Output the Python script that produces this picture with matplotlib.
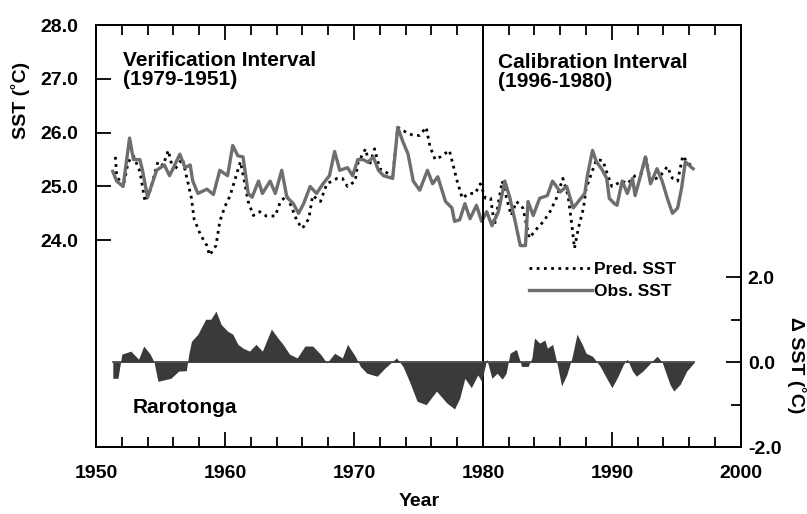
import matplotlib
matplotlib.use("Agg")
import matplotlib.pyplot as plt
from matplotlib.ticker import MultipleLocator
from matplotlib.lines import Line2D

plt.rcParams['font.family'] = ['Liberation Sans', 'DejaVu Sans']
plt.rcParams['font.weight'] = 'bold'

obs_years = [1951.3, 1951.6, 1952.1, 1952.6, 1952.9, 1953.4, 1953.6, 1954.0, 1954.7, 1955.3,
             1955.7, 1956.1, 1956.5, 1956.9, 1957.3, 1957.5, 1957.9, 1958.6, 1959.1, 1959.6,
             1960.2, 1960.6, 1961.0, 1961.4, 1961.8, 1962.1, 1962.6, 1962.9, 1963.5, 1963.9,
             1964.4, 1964.8, 1965.3, 1965.7, 1966.1, 1966.6, 1967.1, 1967.6, 1968.1, 1968.5,
             1968.9, 1969.5, 1969.9, 1970.3, 1970.7, 1971.1, 1971.5, 1971.9, 1972.3, 1973.0,
             1973.4, 1973.8, 1974.2, 1974.6, 1975.1, 1975.7, 1976.1, 1976.5, 1977.1, 1977.6,
             1977.8, 1978.2, 1978.6, 1979.0, 1979.5, 1979.9, 1980.3, 1980.7, 1981.2, 1981.7,
             1982.1, 1982.5, 1982.9, 1983.3, 1983.5, 1983.9, 1984.4, 1985.0, 1985.4, 1986.0,
             1986.5, 1987.0, 1987.5, 1987.9, 1988.1, 1988.5, 1988.8, 1989.2, 1989.6, 1989.8,
             1990.2, 1990.4, 1990.8, 1991.2, 1991.6, 1991.8, 1992.2, 1992.6, 1993.0, 1993.5,
             1993.9, 1994.3, 1994.7, 1995.1, 1995.4, 1995.7, 1996.1, 1996.3]
obs_sst = [25.28, 25.10, 25.00, 25.90, 25.50, 25.50, 25.30, 24.80, 25.30, 25.40,
           25.20, 25.40, 25.60, 25.35, 25.40, 25.10, 24.87, 24.95, 24.85, 25.30,
           25.20, 25.76, 25.57, 25.55, 24.87, 24.80, 25.10, 24.87, 25.10, 24.87,
           25.30, 24.80, 24.68, 24.50, 24.68, 25.00, 24.87, 25.05, 25.20, 25.65,
           25.30, 25.35, 25.20, 25.50, 25.50, 25.45, 25.55, 25.30, 25.20, 25.15,
           26.10, 25.83, 25.60, 25.10, 24.93, 25.30, 25.05, 25.18, 24.72, 24.60,
           24.35, 24.38, 24.68, 24.40, 24.65, 24.35, 24.53, 24.27, 24.53, 25.10,
           24.78, 24.35, 23.90, 23.90, 24.72, 24.46, 24.78, 24.83, 25.10, 24.90,
           25.00, 24.60, 24.75, 24.87, 25.20, 25.67, 25.46, 25.33, 25.15, 24.78,
           24.68, 24.65, 25.10, 24.87, 25.15, 24.83, 25.18, 25.55, 25.05, 25.33,
           25.10, 24.78, 24.50, 24.60, 24.96, 25.46, 25.37, 25.33]

# predicted SST
pred_years = [1951.5, 1951.6, 1952.1, 1952.5, 1952.9, 1953.4, 1953.8, 1954.2, 1954.8, 1955.2,
              1955.6, 1956.0, 1956.7, 1957.1, 1957.4, 1957.6, 1958.1, 1958.6, 1958.8, 1959.3,
              1959.6, 1960.0, 1960.4, 1960.8, 1961.2, 1961.5, 1961.8, 1962.2, 1962.7, 1963.2,
              1963.9, 1964.3, 1964.8, 1965.6, 1966.0, 1966.5, 1966.8, 1967.4, 1967.9, 1968.7,
              1969.1, 1969.5, 1970.1, 1970.3, 1970.9, 1971.2, 1971.6, 1972.0, 1972.4, 1973.0,
              1973.4, 1974.1, 1974.6, 1975.1, 1975.6, 1975.9, 1976.3, 1976.7, 1977.4, 1977.7,
              1978.0, 1978.4, 1978.9, 1979.4, 1979.8, 1980.2, 1980.6, 1980.9, 1981.5, 1981.9,
              1982.2, 1982.6, 1983.1, 1983.6, 1984.2, 1984.7, 1985.2, 1985.7, 1986.2, 1986.6,
              1986.9, 1987.1, 1987.4, 1987.8, 1988.0, 1988.8, 1989.3, 1989.7, 1990.0, 1990.8,
              1991.2, 1991.8, 1992.3, 1992.6, 1993.0, 1993.7, 1994.3, 1994.7, 1995.1, 1995.5,
              1995.9, 1996.3]
pred_sst = [25.55, 25.20, 24.99, 25.46, 25.57, 25.28, 24.72, 24.93, 25.46, 25.39,
            25.67, 25.28, 25.52, 25.10, 24.78, 24.40, 24.10, 23.90, 23.72, 23.90,
            24.35, 24.63, 24.83, 25.15, 25.46, 25.10, 24.72, 24.46, 24.53, 24.45,
            24.45, 24.72, 24.83, 24.35, 24.22, 24.40, 24.83, 24.72, 25.05, 25.15,
            25.15, 25.00, 25.10, 25.43, 25.70, 25.39, 25.70, 25.33, 25.28, 25.18,
            26.10, 26.00, 25.95, 25.95, 26.10, 25.74, 25.50, 25.55, 25.67, 25.39,
            25.10, 24.78, 24.87, 24.87, 25.05, 24.78, 24.78, 24.28, 25.10, 24.72,
            24.46, 24.72, 24.60, 24.04, 24.22, 24.35, 24.53, 24.78, 25.15, 24.83,
            24.28, 23.85, 24.22, 24.60, 24.96, 25.50, 25.48, 25.20, 25.00, 25.10,
            25.05, 25.20, 25.24, 25.57, 25.10, 25.18, 25.37, 25.15, 25.10, 25.57,
            25.43, 25.37]

# SST difference (obs - pred)
delta_years = [1951.3, 1951.7, 1952.0, 1952.7, 1953.3, 1953.7, 1954.2, 1954.5, 1954.8, 1955.8,
               1956.4, 1957.0, 1957.2, 1957.4, 1957.9, 1958.5, 1958.9, 1959.3, 1959.7, 1960.2,
               1960.6, 1961.0, 1961.4, 1961.9, 1962.4, 1962.9, 1963.6, 1964.1, 1964.5, 1965.0,
               1965.6, 1966.2, 1966.8, 1967.4, 1967.9, 1968.5, 1969.1, 1969.5, 1970.1, 1970.5,
               1971.0, 1971.8, 1972.4, 1973.3, 1973.8, 1974.3, 1974.9, 1975.6, 1976.4, 1977.2,
               1977.8, 1978.2, 1978.6, 1979.1, 1979.6, 1979.9, 1980.3, 1980.7, 1981.1, 1981.5,
               1981.8, 1982.1, 1982.6, 1983.0, 1983.5, 1983.8, 1984.0, 1984.4, 1984.8, 1985.0,
               1985.4, 1985.8, 1986.1, 1986.5, 1986.9, 1987.3, 1987.7, 1988.0, 1988.5, 1989.1,
               1989.6, 1990.0, 1990.4, 1990.9, 1991.2, 1991.6, 1991.9, 1992.4, 1992.9, 1993.5,
               1993.9, 1994.5, 1994.8, 1995.3, 1995.8, 1996.4]
delta_sst = [-0.38, -0.38, 0.19, 0.26, 0.07, 0.38, 0.19, 0.00, -0.45, -0.38,
             -0.21, -0.20, 0.20, 0.49, 0.66, 1.01, 1.01, 1.20, 0.89, 0.73,
             0.66, 0.42, 0.33, 0.26, 0.42, 0.26, 0.78, 0.57, 0.42, 0.19,
             0.10, 0.38, 0.38, 0.19, -0.02, 0.21, 0.10, 0.42, 0.14, -0.10,
             -0.26, -0.33, -0.14, 0.10, -0.10, -0.45, -0.92, -1.00, -0.68, -0.96,
             -1.10, -0.85, -0.38, -0.60, -0.30, -0.45, 0.07, -0.38, -0.26, -0.40,
             -0.26, 0.21, 0.30, -0.10, -0.10, 0.10, 0.57, 0.45, 0.52, 0.33,
             0.42, -0.10, -0.56, -0.30, 0.10, 0.66, 0.42, 0.21, 0.14, -0.10,
             -0.38, -0.60, -0.38, -0.05, 0.07, -0.21, -0.33, -0.21, -0.05, 0.14,
             0.00, -0.52, -0.68, -0.52, -0.21, 0.00]

split_year = 1980

fig = plt.figure(figsize=(8.07, 5.14), dpi=100)
ax = fig.add_axes([0.119, 0.130, 0.799, 0.821])
ax2 = ax.twinx()

# top panel: SST lines
ax.plot(pred_years, pred_sst, color='black', lw=2.0, linestyle=(0, (1, 1.6)))
ax.plot(obs_years, obs_sst, color='#6e6e6e', lw=2.4)
ax.axvline(split_year, color='black', lw=1.4)

ax.set_xlim(1950, 2000)
ax.set_ylim(20.15, 28.0)
ax.set_yticks([24, 25, 26, 27, 28])
ax.set_yticklabels(['24.0', '25.0', '26.0', '27.0', '28.0'])
ax.xaxis.set_major_locator(MultipleLocator(10))
ax.xaxis.set_minor_locator(MultipleLocator(2))

ax.tick_params(axis='x', which='major', direction='in', length=11, width=1.3,
               top=True, pad=13, labelsize=14)
ax.tick_params(axis='x', which='minor', direction='in', length=7, width=1.3, top=True)
ax.tick_params(axis='y', which='major', direction='in', length=11, width=1.3,
               pad=13, labelsize=14)

# bottom panel: difference
ax2.fill_between(delta_years, delta_sst, 0, color='#3a3a3a', lw=0)
ax2.plot([delta_years[0], delta_years[-1]], [0, 0], color='#3a3a3a', lw=1.2)
ax2.set_ylim(-2.0, 7.93)
ax2.set_yticks([-2, 0, 2])
ax2.set_yticklabels(['-2.0', '0.0', '2.0'])
ax2.set_yticks([-1, 1], minor=True)
ax2.tick_params(axis='y', which='major', direction='in', length=11, width=1.3,
                pad=5, labelsize=14)
ax2.tick_params(axis='y', which='minor', direction='in', length=7, width=1.3)

for a in (ax, ax2):
    for s in a.spines.values():
        s.set_linewidth(1.3)

ax.text(0.042, 0.94, 'Verification Interval\n(1979-1951)', transform=ax.transAxes,
        fontsize=15, va='top', ha='left', linespacing=1.0)
ax.text(0.623, 0.933, 'Calibration Interval\n(1996-1980)', transform=ax.transAxes,
        fontsize=15, va='top', ha='left', linespacing=1.0)
ax.text(0.057, 0.08, 'Rarotonga', transform=ax.transAxes,
        fontsize=15, va='baseline', ha='left')

handles = [Line2D([], [], color='black', lw=2.0, linestyle=(0, (1, 1.6))),
           Line2D([], [], color='#6e6e6e', lw=2.4)]
ax.legend(handles, ['Pred. SST', 'Obs. SST'], loc='upper left',
          bbox_to_anchor=(0.672, 0.44), frameon=False, fontsize=12.5,
          handlelength=3.6, handletextpad=0.1, labelspacing=0.4, borderpad=0,
          borderaxespad=0)

fig.text(0.026, 0.805, 'SST (˚C)', rotation=90, ha='center', va='center', fontsize=14)
fig.text(0.987, 0.29, 'Δ SST (˚C)', rotation=270, ha='center', va='center', fontsize=14)
fig.text(0.52, 0.025, 'Year', ha='center', va='center', fontsize=14)

fig.savefig('out.png', dpi=100)
